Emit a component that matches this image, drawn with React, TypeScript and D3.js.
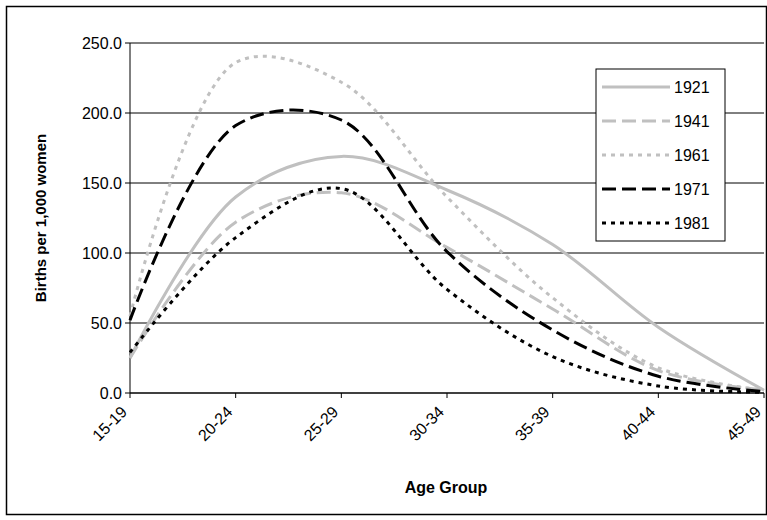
import { useRef, useEffect } from "react";
import * as d3 from "d3";

const ageGroups = ["15-19", "20-24", "25-29", "30-34", "35-39", "40-44", "45-49"];
const years = ["1921", "1941", "1961", "1971", "1981"];
const v1921 = [25, 140, 169, 145, 106, 47, 2];
const v1941 = [25, 122, 143, 104, 60, 16, 2];
const v1961 = [55, 236, 222, 140, 68, 18, 2];
const v1971 = [52, 191, 195, 101, 45, 12, 1];
const v1981 = [29, 111, 146, 74, 26, 5, 0.5];
const yTicks = [0, 50, 100, 150, 200, 250];

const seriesList = [v1921, v1941, v1961, v1971, v1981];
const colors = ["#c0c0c0", "#c0c0c0", "#c0c0c0", "#000", "#000"];
const dashes = ["none", "14,6", "4,5", "14,6", "4,5"];

export default function App() {
  const svgRef = useRef<SVGSVGElement>(null);

  useEffect(() => {
    if (!svgRef.current) return;
    const svg = d3.select(svgRef.current);
    svg.selectAll("*").remove();
    const font = "Arial, 'Liberation Sans', sans-serif";

    svg.append("rect").attr("x", 6.5).attr("y", 6.5).attr("width", 760).attr("height", 508)
      .attr("fill", "#fff").attr("stroke", "#000").attr("stroke-width", 1.5);

    const left = 130, right = 764, top = 43, bottom = 393;
    const x = d3.scalePoint<string>().domain(ageGroups).range([left, right]);
    const y = d3.scaleLinear().domain([0, 250]).range([bottom, top]);

    // gridlines
    svg.selectAll(".grid").data(yTicks.slice(1)).enter().append("line")
      .attr("x1", left).attr("x2", right).attr("y1", (d) => y(d)).attr("y2", (d) => y(d))
      .attr("stroke", "#000").attr("stroke-width", 1);

    // axes
    svg.append("line").attr("x1", left).attr("x2", left).attr("y1", top).attr("y2", bottom).attr("stroke", "#000");
    svg.append("line").attr("x1", left).attr("x2", right).attr("y1", bottom).attr("y2", bottom).attr("stroke", "#000").attr("stroke-width", 1.5);
    svg.selectAll(".yt").data(yTicks).enter().append("line")
      .attr("x1", left - 5).attr("x2", left).attr("y1", (d) => y(d)).attr("y2", (d) => y(d)).attr("stroke", "#000");
    svg.selectAll(".xt").data(ageGroups).enter().append("line")
      .attr("x1", (d) => x(d)!).attr("x2", (d) => x(d)!).attr("y1", bottom).attr("y2", bottom + 5).attr("stroke", "#000");

    svg.selectAll(".yl").data(yTicks).enter().append("text")
      .attr("x", left - 8).attr("y", (d) => y(d)).attr("dy", "0.35em").attr("text-anchor", "end")
      .attr("font-family", font).attr("font-size", 16).text((d) => d.toFixed(1));

    svg.selectAll(".xl").data(ageGroups).enter().append("text")
      .attr("transform", (d) => `translate(${x(d)! - 2},${bottom + 20}) rotate(-45)`)
      .attr("text-anchor", "end").attr("font-family", font).attr("font-size", 16).text((d) => d);

    svg.append("text").attr("transform", `translate(46,${(top + bottom) / 2}) rotate(-90)`)
      .attr("text-anchor", "middle").attr("font-family", font).attr("font-size", 15).attr("font-weight", "bold")
      .text("Births per 1,000 women");
    svg.append("text").attr("x", 446).attr("y", 493)
      .attr("text-anchor", "middle").attr("font-family", font).attr("font-size", 16).attr("font-weight", "bold")
      .text("Age Group");

    const line = d3.line<number>().x((_, i) => x(ageGroups[i])!).y((d) => y(d)).curve(d3.curveCatmullRom.alpha(0.5));
    seriesList.forEach((s, i) => {
      svg.append("path").attr("d", line(s)).attr("fill", "none").attr("stroke", colors[i])
        .attr("stroke-width", 3).attr("stroke-dasharray", dashes[i]);
    });

    // legend
    const lg = svg.append("g");
    lg.append("rect").attr("x", 596).attr("y", 69).attr("width", 129).attr("height", 172)
      .attr("fill", "#fff").attr("stroke", "#000");
    years.forEach((yr, i) => {
      const ly = 87 + i * 34;
      lg.append("line").attr("x1", 602).attr("x2", 670).attr("y1", ly).attr("y2", ly)
        .attr("stroke", colors[i]).attr("stroke-width", 3).attr("stroke-dasharray", dashes[i]);
      lg.append("text").attr("x", 674).attr("y", ly).attr("dy", "0.35em")
        .attr("font-family", font).attr("font-size", 16).text(yr);
    });
  }, []);

  return (
    <svg ref={svgRef} width={767} height={520} style={{ position: "absolute", left: 0, top: 0 }} />
  );
}
